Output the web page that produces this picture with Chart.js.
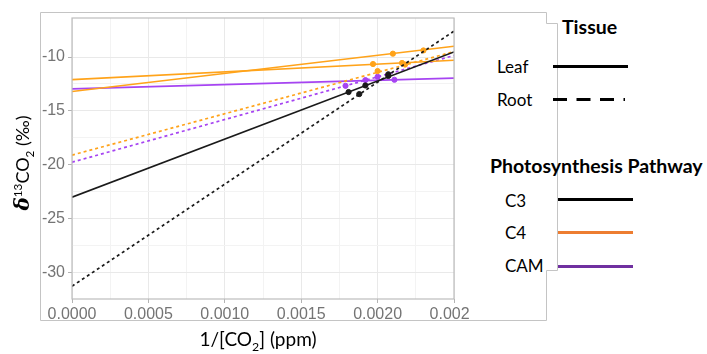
<!DOCTYPE html>
<html>
<head>
<meta charset="utf-8">
<script src="https://cdn.jsdelivr.net/npm/chart.js@4/dist/chart.umd.min.js"></script>
<style>
  body { margin: 0; background: #fff; }
  #wrap { position: relative; width: 707px; height: 354px; overflow: hidden; font-family: Lato, "Open Sans", sans-serif; color: #000; }
  #clip { position: absolute; left: 0; top: 0; width: 470px; height: 354px; overflow: hidden; }
  #outline { position: absolute; left: 0; top: 0; }
  .lbl { position: absolute; white-space: nowrap; }
  .ttl { position: absolute; white-space: nowrap; font-weight: bold; font-size: 19.5px; }
  .key { position: absolute; height: 3px; }
  sub, sup { font-size: 65%; line-height: 0; }
</style>
</head>
<body>
<div id="wrap">
  <svg id="outline" width="707" height="354">
    <polyline points="40.5,320.5 40.5,12.5 546.5,12.5 546.5,23.5 557.5,23.5 557.5,270.5 546.5,270.5 546.5,320.5 40.5,320.5"
      fill="none" stroke="#c4c4c4" stroke-width="1"/>
  </svg>
  <div id="clip"><canvas id="grafico" width="707" height="354"></canvas></div>

  <!-- titulos dos eixos -->
  <div class="lbl" id="tituloY" style="left:-78px; top:151px; width:200px; text-align:center; font-size:18px; line-height:24px; transform:rotate(-90deg);">
    <b style="font-family:'DejaVu Serif'; font-style:italic; font-size:20px;">δ</b><sup>13</sup>CO<sub>2</sub> (‰)
  </div>
  <div class="lbl" style="left:158px; top:328px; width:200px; text-align:center; font-size:19px; line-height:22px;">1/[CO<sub>2</sub>] (ppm)</div>

  <!-- legenda -->
  <div class="ttl" style="left:562px; top:15px;">Tissue</div>
  <div class="lbl" style="left:497px; top:56px; font-size:17px;">Leaf</div>
  <div class="key" style="left:553px; top:65px; width:75px; background:#000;"></div>
  <div class="lbl" style="left:497px; top:89px; font-size:17px;">Root</div>
  <svg class="key" style="left:553px; top:98px;" width="72" height="3">
    <line x1="0" y1="1.5" x2="72" y2="1.5" stroke="#000" stroke-width="3" stroke-dasharray="14,9.5"/>
  </svg>
  <div class="ttl" style="left:490px; top:154px;">Photosynthesis Pathway</div>
  <div class="lbl" style="left:505px; top:190px; font-size:17px;">C3</div>
  <div class="key" style="left:558px; top:198px; width:75px; background:#000;"></div>
  <div class="lbl" style="left:505px; top:222px; font-size:17px;">C4</div>
  <div class="key" style="left:558px; top:231px; width:75px; background:#ED7D31;"></div>
  <div class="lbl" style="left:505px; top:255px; font-size:17px;">CAM</div>
  <div class="key" style="left:558px; top:265px; width:75px; background:#7030A0;"></div>
</div>

<script>
// Dados
const grupos = ["C3 Leaf", "C3 Root", "C4 Leaf A", "C4 Leaf B", "C4 Root", "CAM Leaf", "CAM Root"];
const cores = ["#1a1a1a", "#1a1a1a", "#FFA31A", "#FFA31A", "#FFA31A", "#A644F2", "#A644F2"];
const tracejado = [false, true, false, false, true, false, true];
const xLimites = [0, 0.0025];
// valor da recta em x = 0 e em x = 0.0025
const retaInicio = [-23.0, -31.26, -12.1, -13.2, -19.1, -12.95, -19.76];
const retaFim = [-9.53, -7.6, -10.3, -9.0, -9.5, -11.95, -9.86];
// pontos medidos
const pontosX = [
  [0.00181, 0.00192, 0.00207],
  [0.00188, 0.00207],
  [0.00197, 0.00216],
  [0.0021, 0.0023],
  [0.0020, 0.00218],
  [0.00192, 0.00211],
  [0.00179, 0.0020]
];
const pontosY = [
  [-13.25, -12.64, -11.75],
  [-13.44, -11.6],
  [-10.65, -10.55],
  [-9.69, -9.39],
  [-11.3, -10.7],
  [-12.14, -12.11],
  [-12.67, -11.83]
];

const datasets = [];
grupos.forEach((g, i) => {
  datasets.push({
    label: g,
    data: [{ x: xLimites[0], y: retaInicio[i] }, { x: xLimites[1], y: retaFim[i] }],
    showLine: true,
    borderColor: cores[i],
    borderWidth: 1.7,
    borderDash: tracejado[i] ? [3, 3] : [],
    pointRadius: 0
  });
  datasets.push({
    label: g + " pts",
    data: pontosX[i].map((x, k) => ({ x: x, y: pontosY[i][k] })),
    showLine: false,
    backgroundColor: cores[i],
    borderColor: cores[i],
    pointRadius: 2.6
  });
});

const ehMultiplo = (v, passo) => Math.abs(v / passo - Math.round(v / passo)) < 1e-6;

// borda do painel
const bordaPainel = {
  id: "bordaPainel",
  afterDraw(chart) {
    const a = chart.chartArea;
    const c = chart.ctx;
    c.save();
    c.strokeStyle = "#bdbdbd";
    c.lineWidth = 1.2;
    c.strokeRect(a.left, a.top, a.right - a.left, a.bottom - a.top);
    c.restore();
  }
};

new Chart(document.getElementById("grafico"), {
  type: "scatter",
  data: { datasets: datasets },
  plugins: [bordaPainel],
  options: {
    responsive: false,
    animation: false,
    layout: { padding: { left: 0, top: 18, right: 253, bottom: 25 } },
    plugins: { legend: { display: false }, tooltip: { enabled: false } },
    scales: {
      x: {
        type: "linear",
        min: 0,
        max: 0.0025,
        afterFit: s => { s.height = 30; },
        border: { display: false },
        grid: {
          color: c => ehMultiplo(c.tick.value, 0.0005) ? "#e9e9e9" : "#f3f3f3",
          tickColor: c => ehMultiplo(c.tick.value, 0.0005) ? "#b3b3b3" : "rgba(0,0,0,0)",
          tickLength: 4,
          lineWidth: 1
        },
        ticks: {
          stepSize: 0.00025,
          autoSkip: false,
          maxRotation: 0,
          padding: 2,
          color: "#747474",
          font: { family: "Liberation Sans", size: 16 },
          callback: v => ehMultiplo(v, 0.0005) ? v.toFixed(4) : ""
        }
      },
      y: {
        min: -32.45,
        max: -6.38,
        afterFit: s => { s.width = 72; },
        border: { display: false },
        grid: {
          color: c => ehMultiplo(c.tick.value, 5) ? "#e9e9e9" : (ehMultiplo(c.tick.value, 2.5) ? "#f3f3f3" : "rgba(0,0,0,0)"),
          tickColor: c => ehMultiplo(c.tick.value, 5) ? "#b3b3b3" : "rgba(0,0,0,0)",
          tickLength: 4,
          lineWidth: 1
        },
        ticks: {
          stepSize: 2.5,
          autoSkip: false,
          padding: 3,
          color: "#747474",
          font: { family: "Liberation Sans", size: 16 },
          callback: v => ehMultiplo(v, 5) ? String(v) : ""
        }
      }
    }
  }
});
</script>
</body>
</html>
